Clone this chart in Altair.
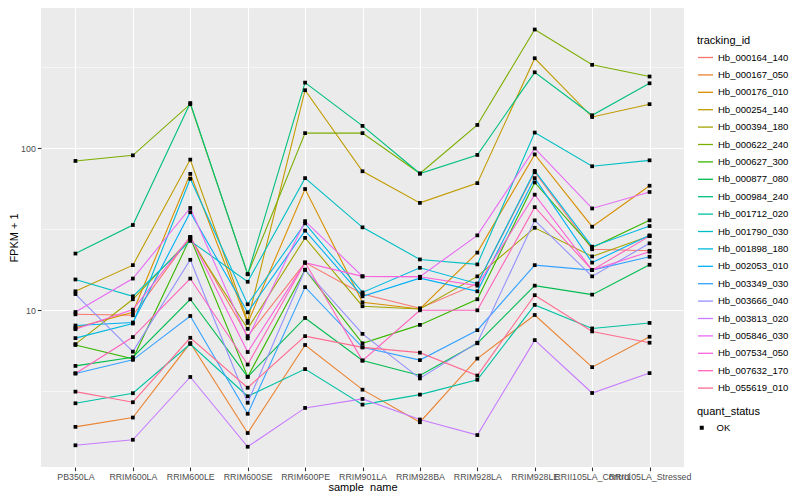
import altair as alt
import pandas as pd

samples = ["PB350LA", "RRIM600LA", "RRIM600LE", "RRIM600SE", "RRIM600PE",
           "RRIM901LA", "RRIM928BA", "RRIM928LA", "RRIM928LE",
           "RRII105LA_Control", "RRII105LA_Stressed"]

tracking_ids = ["Hb_000164_140", "Hb_000167_050", "Hb_000176_010", "Hb_000254_140",
                "Hb_000394_180", "Hb_000622_240", "Hb_000627_300", "Hb_000877_080",
                "Hb_000984_240", "Hb_001712_020", "Hb_001790_030", "Hb_001898_180",
                "Hb_002053_010", "Hb_003349_030", "Hb_003666_040", "Hb_003813_020",
                "Hb_005846_030", "Hb_007534_050", "Hb_007632_170", "Hb_055619_010"]

hue_colors = ["#F8766D", "#EA8331", "#D89000", "#C09B00", "#A3A500", "#7CAE00",
              "#39B600", "#00BB4E", "#00BF7D", "#00C1A3", "#00BFC4", "#00BAE0",
              "#00B0F6", "#35A2FF", "#9590FF", "#C77CFF", "#E76BF3", "#FA62DB",
              "#FF62BC", "#FF6C91"]

# FPKM + 1 per sample (same order as samples)
hb_000164_140 = [9.45, 9.32, 28.4, 6.93, 19.7, 12.6, 10.3, 14.6, 71.1, 23.8, 23.3]
hb_000167_050 = [1.91, 2.18, 6.28, 1.75, 6.11, 3.24, 2.04, 5.04, 9.36, 4.46, 6.87]
hb_000176_010 = [7.79, 9.72, 69.5, 8.36, 56.0, 11.2, 10.2, 22.7, 91.6, 32.8, 58.7]
hb_000254_140 = [13.1, 19.0, 85.1, 8.6, 228.0, 72.1, 46.0, 60.9, 359.0, 155.8, 187.0]
hb_000394_180 = [6.19, 11.7, 27.6, 7.69, 28.0, 10.6, 10.2, 16.2, 32.3, 21.5, 28.7]
hb_000622_240 = [83.5, 90.4, 187.0, 16.7, 123.9, 123.9, 69.8, 139.2, 540.0, 327.0, 277.0]
hb_000627_300 = [6.11, 5.02, 28.0, 3.89, 17.8, 6.26, 8.13, 11.7, 61.5, 24.4, 35.9]
hb_000877_080 = [4.54, 5.14, 11.7, 3.89, 8.97, 4.90, 3.96, 6.26, 14.2, 12.5, 19.1]
hb_000984_240 = [22.4, 33.6, 190.0, 16.7, 254.0, 137.3, 69.8, 90.9, 294.0, 159.7, 251.6]
hb_001712_020 = [2.67, 3.08, 6.2, 2.95, 4.34, 2.62, 3.02, 3.73, 10.8, 7.73, 8.36]
hb_001790_030 = [15.5, 12.2, 26.8, 15.0, 65.4, 32.5, 20.6, 19.2, 124.9, 77.4, 84.2]
hb_001898_180 = [6.74, 8.29, 64.8, 10.9, 34.4, 12.9, 18.3, 14.6, 72.5, 24.7, 33.1]
hb_002053_010 = [8.06, 8.41, 40.3, 9.72, 31.0, 12.2, 15.8, 13.1, 65.4, 19.7, 29.0]
hb_003349_030 = [4.08, 4.95, 9.23, 2.30, 13.9, 5.91, 4.93, 7.54, 19.0, 17.7, 21.4]
hb_003666_040 = [12.6, 5.56, 20.5, 2.69, 17.8, 7.16, 3.80, 6.31, 35.9, 16.2, 25.9]
hb_003813_020 = [1.47, 1.59, 3.88, 1.44, 2.50, 2.84, 2.12, 1.70, 6.55, 3.09, 4.10]
hb_005846_030 = [9.76, 15.7, 42.8, 6.71, 35.5, 16.2, 16.1, 29.0, 99.7, 42.5, 53.7]
hb_007534_050 = [7.65, 10.1, 28.4, 5.53, 19.7, 16.2, 16.1, 14.2, 51.7, 17.7, 23.0]
hb_007632_170 = [4.08, 6.84, 15.7, 4.63, 19.7, 4.90, 10.0, 10.0, 43.3, 17.7, 28.7]
hb_055619_010 = [3.15, 2.71, 6.77, 3.33, 6.93, 5.91, 5.48, 3.96, 12.4, 7.41, 6.31]

series = [hb_000164_140, hb_000167_050, hb_000176_010, hb_000254_140, hb_000394_180,
          hb_000622_240, hb_000627_300, hb_000877_080, hb_000984_240, hb_001712_020,
          hb_001790_030, hb_001898_180, hb_002053_010, hb_003349_030, hb_003666_040,
          hb_003813_020, hb_005846_030, hb_007534_050, hb_007632_170, hb_055619_010]

rows = []
for tid, vals in zip(tracking_ids, series):
    for i, (s, v) in enumerate(zip(samples, vals)):
        rows.append({"tracking_id": tid, "sample_name": s, "idx": i,
                     "fpkm1": v, "quant_status": "OK"})
df = pd.DataFrame(rows)

FONT = "Liberation Sans"
major_test = "datum.value == 10 || datum.value == 100"

x_enc = alt.X("sample_name:N", sort=samples,
              scale=alt.Scale(type="point", padding=0.6),
              axis=alt.Axis(title="sample_name", labelAngle=0, labelOverlap=False,
                            labelBound=False, labelFlush=False, domain=False,
                            grid=True, gridColor="white", gridWidth=1.1,
                            tickColor="#333333", tickSize=3.7, tickWidth=1.1,
                            labelPadding=1.5, titlePadding=0,
                            labelColor="#4D4D4D", labelFontSize=8.8,
                            titleFontSize=11, titleFontWeight="normal",
                            labelFont=FONT, titleFont=FONT, titleColor="black"))

y_enc = alt.Y("fpkm1:Q",
              scale=alt.Scale(type="log", domain=[1.08, 733], nice=False, zero=False),
              axis=alt.Axis(title="FPKM + 1",
                            values=[3.1623, 10, 31.623, 100, 316.23],
                            labelExpr="datum.value == 10 ? '10' : (datum.value == 100 ? '100' : '')",
                            domain=False, grid=True, gridColor="white",
                            gridWidth={"condition": {"test": major_test, "value": 1.1}, "value": 0.55},
                            tickColor="#333333", tickSize=3.7, tickWidth=1.1,
                            tickOpacity={"condition": {"test": major_test, "value": 1}, "value": 0},
                            labelPadding=2, titlePadding=1,
                            labelColor="#4D4D4D", labelFontSize=8.8,
                            titleFontSize=11, titleFontWeight="normal",
                            labelFont=FONT, titleFont=FONT, titleColor="black"))

lines = alt.Chart(df).mark_line(strokeWidth=1.1).encode(
    x=x_enc,
    y=y_enc,
    color=alt.Color("tracking_id:N",
                    scale=alt.Scale(domain=tracking_ids, range=hue_colors),
                    legend=alt.Legend(title="tracking_id", orient="none",
                                      legendX=656, legendY=27,
                                      symbolType="stroke", symbolSize=225,
                                      symbolStrokeWidth=1.3, rowPadding=4.4,
                                      labelFontSize=9.5, titleFontSize=11,
                                      titleFontWeight="normal", titlePadding=3,
                                      labelOffset=4, padding=0, labelLimit=300,
                                      labelFont=FONT, titleFont=FONT,
                                      labelColor="black", titleColor="black")),
    order=alt.Order("idx:Q"),
)

points = alt.Chart(df).mark_point(filled=True, size=14, opacity=1, color="black").encode(
    x=alt.X("sample_name:N", sort=samples),
    y=alt.Y("fpkm1:Q"),
    shape=alt.Shape("quant_status:N",
                    scale=alt.Scale(range=["square"]),
                    legend=alt.Legend(title="quant_status", orient="none",
                                      legendX=656, legendY=398,
                                      symbolFillColor="black", symbolStrokeColor="black",
                                      symbolSize=16, labelFontSize=9.5, titleFontSize=11,
                                      titleFontWeight="normal", titlePadding=6,
                                      labelOffset=10, padding=0, labelLimit=300,
                                      labelFont=FONT, titleFont=FONT,
                                      labelColor="black", titleColor="black")),
)

chart = alt.layer(lines, points).properties(
    width=643, height=459,
    autosize=alt.AutoSizeParams(type="pad"),
    padding={"left": 0, "top": 0, "right": 0, "bottom": 0},
).configure(background="white").configure_view(fill="#EBEBEB", stroke=None)

chart.save("out.html", embed_options={"renderer": "svg", "actions": False})
